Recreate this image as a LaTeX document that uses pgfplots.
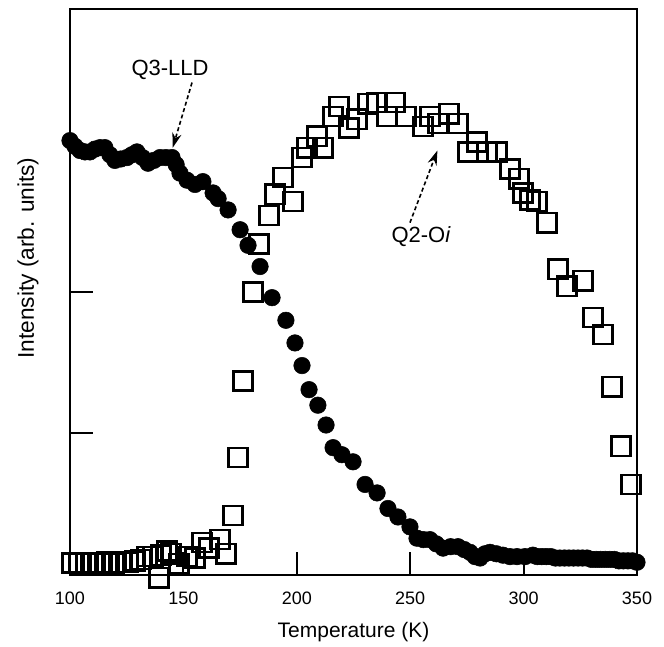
\documentclass[border=0pt]{standalone}
\usepackage{pgfplots}
\pgfplotsset{compat=1.18}
\usepackage{fontspec}
\setmainfont{Liberation Sans}
\usetikzlibrary{arrows.meta}
\begin{document}
\begin{tikzpicture}
\begin{axis}[
  scale only axis,
  width=425.25pt, height=424.5pt,
  xmin=100, xmax=350, ymin=0, ymax=4,
  xtick={100,150,200,250,300,350},
  ytick={1,2,3}, yticklabels={},
  xtick pos=bottom, ytick pos=left,
  tick align=inside,
  major tick length=17pt,
  axis line style={line width=2pt},
  every tick/.style={line width=1.5pt, black},
  /pgf/number format/assume math mode=true,
  x tick label style={font=\fontsize{13.5}{16}\selectfont, yshift=-9pt},
  xlabel={Temperature (K)},
  ylabel={Intensity (arb. units)},
  xlabel style={font=\fontsize{15.75}{18}\selectfont, at={(axis description cs:0.5,0)}, anchor=center, yshift=-42.75pt},
  ylabel style={font=\fontsize{17}{20}\selectfont, at={(axis description cs:-0.074,0.56)}, anchor=center},
  clip=false,
]
% Q3-LLD filled circles
\addplot[only marks, mark=*, mark size=6.2pt, mark options={fill=black, draw=black}] coordinates {
(100.0,3.07) (102.2,3.03) (104.4,3.00) (106.6,2.99) (108.8,2.99) (111.0,3.01)
(113.2,3.02) (115.4,3.02) (117.6,2.97) (119.8,2.93) (122.4,2.94) (125.1,2.95)
(127.3,2.97) (129.5,2.99) (132.0,2.95) (134.4,2.91) (137.0,2.93) (139.7,2.95)
(142.3,2.95) (145.0,2.95) (146.8,2.90) (148.5,2.84) (151.6,2.79) (155.1,2.76)
(158.6,2.78) (163.1,2.70) (165.3,2.66) (169.7,2.58) (175.0,2.44) (178.5,2.33)
(183.8,2.18) (189.1,1.96) (195.2,1.80) (199.2,1.64) (202.3,1.48) (205.4,1.31)
(209.3,1.20) (212.9,1.06) (216.0,0.90) (219.9,0.85) (224.8,0.80) (230.1,0.64)
(235.4,0.58) (240.2,0.47) (244.6,0.41) (249.9,0.34) (253.0,0.26) (255.8,0.25)
(258.7,0.25) (261.5,0.22) (264.5,0.19) (267.8,0.20) (271.1,0.20) (273.8,0.18)
(276.4,0.16) (278.6,0.13) (280.8,0.12) (283.0,0.15) (285.2,0.16) (288.0,0.15)
(290.9,0.14) (294.0,0.13) (297.1,0.13) (300.6,0.13) (304.1,0.14) (306.0,0.13)
(308.0,0.13) (310.0,0.13) (312.0,0.13) (314.0,0.12) (316.0,0.12) (318.0,0.12)
(320.0,0.12) (322.0,0.12) (324.0,0.12) (326.0,0.12) (328.0,0.12) (330.0,0.11)
(332.0,0.11) (334.0,0.11) (336.0,0.11) (338.0,0.11) (340.0,0.11) (342.0,0.10)
(344.0,0.10) (346.0,0.10) (348.0,0.10) (350.0,0.09)
};
% Q2-Oi open squares
\addplot[only marks, mark=square, mark size=7.2pt, mark options={draw=black, line width=1.9pt, fill=none}] coordinates {
(100.9,0.085) (104.0,0.085) (107.1,0.085) (110.1,0.08) (113.2,0.085) (116.3,0.09)
(119.4,0.085) (122.5,0.09) (125.6,0.09) (128.7,0.10) (131.3,0.11) (134.0,0.13)
(136.6,0.13) (139.2,-0.02) (140.1,0.14) (142.8,0.17) (144.5,0.15) (148.1,0.08)
(151.6,0.13) (155.1,0.12) (158.2,0.23) (161.3,0.19) (166.1,0.25) (168.8,0.15)
(171.9,0.42) (174.1,0.83) (176.3,1.37) (180.7,2.00) (183.3,2.34) (187.7,2.54)
(190.4,2.69) (193.9,2.81) (198.3,2.64) (202.3,2.95) (204.5,3.02) (208.9,3.10)
(211.6,3.02) (216.0,3.24) (218.6,3.31) (223.0,3.16) (226.5,3.22) (231.4,3.33)
(235.4,3.34) (239.8,3.24) (243.3,3.34) (248.1,3.24) (255.6,3.17) (258.7,3.24)
(262.3,3.19) (267.1,3.26) (271.1,3.19) (275.5,2.99) (279.5,3.06) (283.9,2.99)
(288.3,2.99) (294.0,2.87) (298.0,2.80) (299.7,2.70) (302.8,2.65) (305.9,2.64)
(310.3,2.49) (315.2,2.16) (319.1,2.04) (326.2,2.08) (330.6,1.82) (335.0,1.70)
(339.0,1.33) (342.9,0.91) (347.4,0.64)
};
\node[font=\fontsize{16.5}{19}\selectfont] at (axis cs:144.1,3.57) {Q3-LLD};
\node[font=\fontsize{16.5}{19}\selectfont] at (axis cs:254.8,2.39) {Q2-O\textit{i}};
\draw[densely dashed, line width=1.2pt, -{Stealth[length=11pt,width=7pt]}] (axis cs:153.8,3.48) -- (axis cs:145.3,3.02);
\draw[densely dashed, line width=1.2pt, -{Stealth[length=11pt,width=7pt]}] (axis cs:249.9,2.49) -- (axis cs:262.0,3.00);
\path ([xshift=-52.5pt,yshift=-51.75pt]rel axis cs:0,0) rectangle ([xshift=20.25pt,yshift=6.75pt]rel axis cs:1,1);
\end{axis}
\end{tikzpicture}
\end{document}
